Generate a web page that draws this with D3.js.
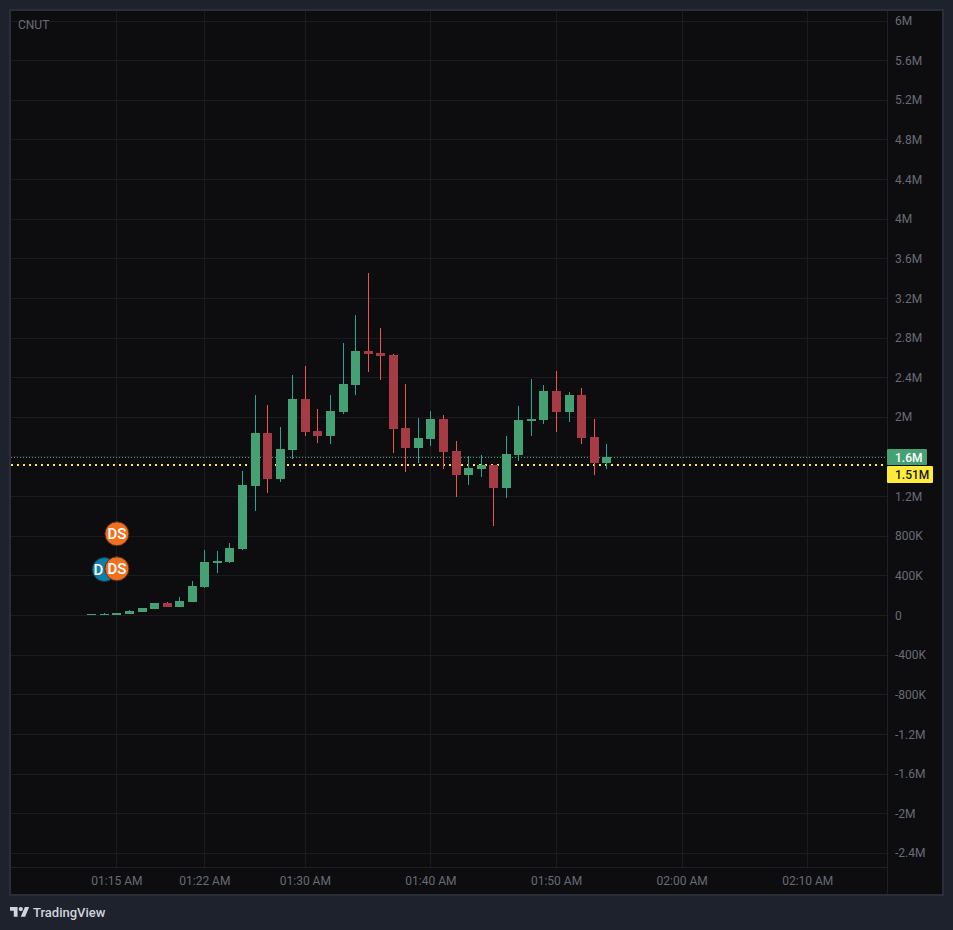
<!DOCTYPE html>
<html>
<head>
<meta charset="utf-8">
<script src="https://cdn.jsdelivr.net/npm/d3@7/dist/d3.min.js"></script>
<style>
html,body{margin:0;padding:0;background:#1e222d;}
svg{display:block;}
text{font-family:Roboto,"Liberation Sans",sans-serif;}
</style>
</head>
<body>
<svg id="c" width="953" height="930"></svg>
<script>
const symbol = "CNUT";
const brand = "TradingView";
const startMinute = 73; // 01:13 AM, one candle per minute, values in thousands
const opens  = [0,0,0,10,30,61,121,81,131,283,525,535,666,1302,1837,1373,1665,2180,1857,1807,2049,2321,2665,2644,2624,1887,1686,1776,1978,1655,1413,1474,1514,1282,1615,1958,1968,2261,2049,2220,1797,1534];
const closes = [10,10,20,40,71,121,81,141,293,535,545,676,1312,1837,1373,1675,2180,1847,1807,2059,2331,2665,2634,2614,1877,1686,1786,1978,1645,1413,1484,1514,1282,1625,1968,1978,2261,2049,2220,1786,1534,1595];
const highs  = [10,20,20,50,71,121,131,182,343,656,646,727,1453,2220,2120,1897,2422,2513,2079,2220,2745,3028,3452,2897,2634,2331,1988,2059,2019,1756,1605,1615,1514,1807,2109,2382,2321,2463,2251,2291,1978,1726];
const lows   = [0,0,0,10,30,61,81,81,131,273,424,525,656,1050,1231,1342,1574,1807,1736,1726,2029,2220,2453,2372,1635,1443,1534,1706,1474,1191,1312,1393,898,1181,1554,1807,1928,1847,1948,1726,1413,1474];
const priceTicks = [6000,5600,5200,4800,4400,4000,3600,3200,2800,2400,2000,1200,800,400,0,-400,-800,-1200,-1600,-2000,-2400];
const gridOnlyTicks = [1600];
const timeTickMinutes = [75,82,90,100,110,120,130];
const timeTickLabels = ["01:15 AM","01:22 AM","01:30 AM","01:40 AM","01:50 AM","02:00 AM","02:10 AM"];
const lastPrice = 1595;
const lastLabel = "1.6M";
const markPrice = 1514;
const markLabel = "1.51M";
const markerLabels = ["D","DS","DS"];
const markerMinutes = [74,75,75];
const markerValues = [459,467,820];
const markerColors = ["#0e7fa8","#f0701f","#f0701f"];

const C = {page:"#1e222d",panel:"#0d0d10",border:"#2a2e39",grid:"#1c1c1f",axisLine:"#1f2024",
  tick:"#686b75",up:"#45a074",down:"#a53b44",upWick:"#26a69a",downWick:"#ef5350",yellow:"#ffeb3b"};

const L = {x0:11,x1:887,y0:11,y1:867};
const x = d3.scaleLinear().domain([startMinute+(L.x0-91.8)/12.56,startMinute+(L.x1-91.8)/12.56]).range([L.x0,L.x1]);
const y = d3.scaleLinear().domain([6096,-2543]).range([L.y0,L.y1]);
const fmt = v => {
  if (v===0) return "0";
  const a=Math.abs(v), s=v<0?"-":"";
  return s+(a>=1000?(a/1000)+"M":a+"K");
};

const svg = d3.select("#c");
svg.append("rect").attr("width",953).attr("height",930).attr("fill",C.page);
svg.append("rect").attr("x",10).attr("y",10).attr("width",933).attr("height",885)
  .attr("fill",C.panel).attr("stroke",C.border).attr("stroke-width",2);

// grid
const g = svg.append("g");
g.selectAll("line.h").data(priceTicks.concat(gridOnlyTicks)).join("line").attr("class","h")
  .attr("x1",L.x0).attr("x2",L.x1)
  .attr("y1",d=>Math.round(y(d))+.5).attr("y2",d=>Math.round(y(d))+.5)
  .attr("stroke",C.grid);
g.selectAll("line.v").data(timeTickMinutes).join("line").attr("class","v")
  .attr("y1",L.y0).attr("y2",L.y1)
  .attr("x1",d=>Math.floor(x(d))+.5).attr("x2",d=>Math.floor(x(d))+.5)
  .attr("stroke",C.grid);
svg.append("line").attr("x1",L.x1+.5).attr("x2",L.x1+.5).attr("y1",L.y0).attr("y2",L.y1+27).attr("stroke",C.axisLine);
svg.append("line").attr("x1",L.x0).attr("x2",L.x1).attr("y1",L.y1+.5).attr("y2",L.y1+.5).attr("stroke",C.axisLine);

// axes
const yAxis = d3.axisRight(y).tickValues(priceTicks).tickFormat(fmt).tickSize(0).tickPadding(8);
const ay = svg.append("g").attr("transform",`translate(${L.x1},0)`).call(yAxis);
ay.select(".domain").remove();
ay.selectAll("text").attr("fill",C.tick).attr("font-size",12).attr("font-family","Roboto").attr("dy","0.34em");
const xAxis = d3.axisBottom(x).tickValues(timeTickMinutes)
  .tickFormat((d,i)=>timeTickLabels[i]).tickSize(0).tickPadding(9);
const ax = svg.append("g").attr("transform",`translate(-0.5,${L.y1})`).call(xAxis);
ax.select(".domain").remove();
ax.selectAll("text").attr("fill",C.tick).attr("font-size",12).attr("font-family","Roboto");

// symbol
svg.append("text").attr("x",18).attr("y",29).attr("fill",C.tick).attr("font-size",12).text(symbol);

// price lines
svg.append("line").attr("x1",L.x0).attr("x2",L.x1).attr("y1",Math.round(y(lastPrice))+.5).attr("y2",Math.round(y(lastPrice))+.5)
  .attr("stroke",C.up).attr("stroke-dasharray","1 2");
svg.append("line").attr("x1",L.x0).attr("x2",L.x1).attr("y1",Math.round(y(markPrice))).attr("y2",Math.round(y(markPrice)))
  .attr("stroke",C.yellow).attr("stroke-width",2).attr("stroke-dasharray","2 4");

// candles
const candles = opens.map((o,i)=>({m:startMinute+i,o,c:closes[i],h:highs[i],l:lows[i]}));
const cg = svg.append("g").selectAll("g").data(candles).join("g");
cg.append("line")
  .attr("x1",d=>Math.floor(x(d.m))+.5).attr("x2",d=>Math.floor(x(d.m))+.5)
  .attr("y1",d=>Math.round(y(d.h))).attr("y2",d=>Math.round(y(d.l)))
  .attr("stroke",d=>d.c>=d.o?C.upWick:C.downWick);
cg.append("rect")
  .attr("x",d=>Math.floor(x(d.m))-4).attr("width",9)
  .attr("y",d=>Math.round(y(Math.max(d.o,d.c))))
  .attr("height",d=>Math.max(1,Math.round(y(Math.min(d.o,d.c)))-Math.round(y(Math.max(d.o,d.c)))))
  .attr("fill",d=>d.c>=d.o?C.up:C.down);

// markers
const mk = svg.append("g").selectAll("g").data(markerLabels).join("g")
  .attr("transform",(d,i)=>`translate(${x(markerMinutes[i])},${y(markerValues[i])})`);
mk.append("circle").attr("r",12).attr("fill",(d,i)=>markerColors[i])
  .attr("stroke",(d,i)=>i?"#4a2c1a":"#0f3a4a").attr("stroke-width",1);
mk.append("text").attr("text-anchor",d=>d==="D"?"end":"middle").attr("dy","0.36em")
  .attr("x",d=>d==="D"?-1:0)
  .attr("fill","#fff").attr("font-size",15).attr("font-weight",500)
  .text(d=>d);

// price labels
const labelG = svg.append("g");
labelG.append("rect").attr("x",887).attr("y",449).attr("width",40).attr("height",16).attr("fill",C.up).attr("rx",1);
labelG.append("text").attr("x",895).attr("y",462).attr("fill","#fff").attr("font-size",12).attr("font-weight",500).text(lastLabel);
labelG.append("rect").attr("x",887).attr("y",466).attr("width",46).attr("height",17).attr("fill",C.yellow).attr("rx",1);
labelG.append("text").attr("x",895).attr("y",479).attr("fill","#131722").attr("font-size",12).attr("font-weight",500).text(markLabel);

// brand
const logo = svg.append("g").attr("transform","translate(10,904.8) scale(0.54)").attr("fill","#d1d4dc");
logo.append("path").attr("d","M14 22H7V11H0V4h14v18zM28 22h-8l7.5-18h8L28 22z");
logo.append("circle").attr("cx",20).attr("cy",8).attr("r",4);
svg.append("text").attr("x",33).attr("y",917).attr("fill","#d1d4dc").attr("font-size",13).attr("font-weight",500).text(brand);
</script>
</body>
</html>
